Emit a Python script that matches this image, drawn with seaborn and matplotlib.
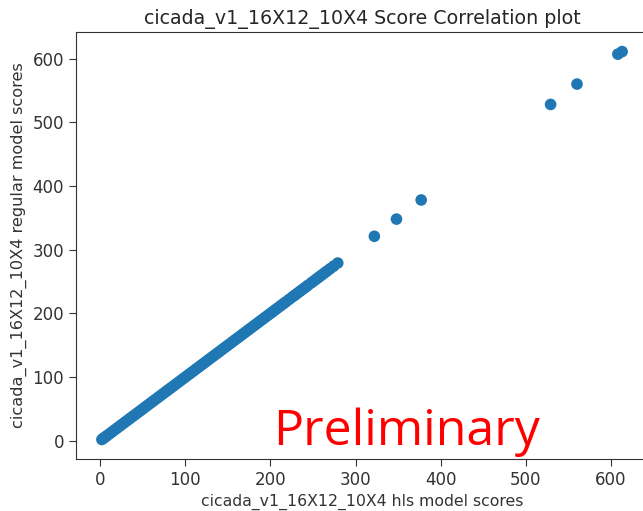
import matplotlib
matplotlib.use("Agg")
import matplotlib.pyplot as plt
import pandas as pd
import seaborn as sns

# scores along the diagonal (hls vs regular model)
hls_scores = [
    2, 4, 6, 8, 11, 14, 17, 20, 23, 26, 29, 32, 35, 38, 41, 44, 47, 50, 53, 56,
    59, 62, 65, 68, 71, 74, 77, 80, 83, 86, 89, 92, 95, 98, 101, 104, 107, 110,
    113, 116, 119, 122, 125, 128, 131, 134, 137, 140, 143, 146, 149, 152, 155,
    158, 161, 164, 167, 170, 173, 176, 179, 182, 185, 188, 191, 194, 197, 200,
    203, 206, 209, 212, 215, 218, 222, 226, 229, 232, 235, 238, 241, 244, 248,
    251, 254, 257, 260, 263, 266, 270, 274, 279,
    322, 348, 377, 529, 560, 608, 613,
]
regular_scores = [
    2, 4, 6, 8, 11, 14, 17, 20, 23, 26, 29, 32, 35, 38, 41, 44, 47, 50, 53, 56,
    59, 62, 65, 68, 71, 74, 77, 80, 83, 86, 89, 92, 95, 98, 101, 104, 107, 110,
    113, 116, 119, 122, 125, 128, 131, 134, 137, 140, 143, 146, 149, 152, 155,
    158, 161, 164, 167, 170, 173, 176, 179, 182, 185, 188, 191, 194, 197, 200,
    203, 206, 209, 212, 215, 218, 222, 226, 229, 232, 235, 238, 241, 244, 248,
    251, 254, 257, 260, 263, 266, 270, 274, 279,
    321, 348, 378, 528, 560, 607, 611,
]

model = "cicada_v1_16X12_10X4"


def main():
    sns.set_style("ticks")
    plt.rcParams["font.family"] = ["DejaVu Sans"]

    df = pd.DataFrame({"hls": hls_scores, "regular": regular_scores})

    fig = plt.figure(figsize=(6.43, 5.11), dpi=100)
    ax = fig.add_axes([0.118, 0.102, 0.89, 0.835])
    sns.scatterplot(data=df, x="hls", y="regular", ax=ax, s=70,
                    color="#1f77b4", edgecolor="none", linewidth=0)

    ax.set_title(f"{model} Score Correlation plot", fontsize=13.7, color="#262626")
    ax.set_xlabel(f"{model} hls model scores", fontsize=11.3, color="#333333")
    ax.set_ylabel(f"{model} regular model scores", fontsize=11.6, color="#333333")
    ax.tick_params(labelsize=12, colors="#333333", length=5)
    ax.set_xticks([0, 100, 200, 300, 400, 500, 600])
    ax.set_yticks([0, 100, 200, 300, 400, 500, 600])
    for sp in ax.spines.values():
        sp.set_color("#333333")

    fig.text(0.424, 1 - 445 / 511, "Preliminary", color="#ff0000", fontsize=36,
             va="baseline", family=["Open Sans", "DejaVu Sans"])

    fig.savefig("out.png", dpi=100)
    plt.close(fig)


if __name__ == "__main__":
    main()
